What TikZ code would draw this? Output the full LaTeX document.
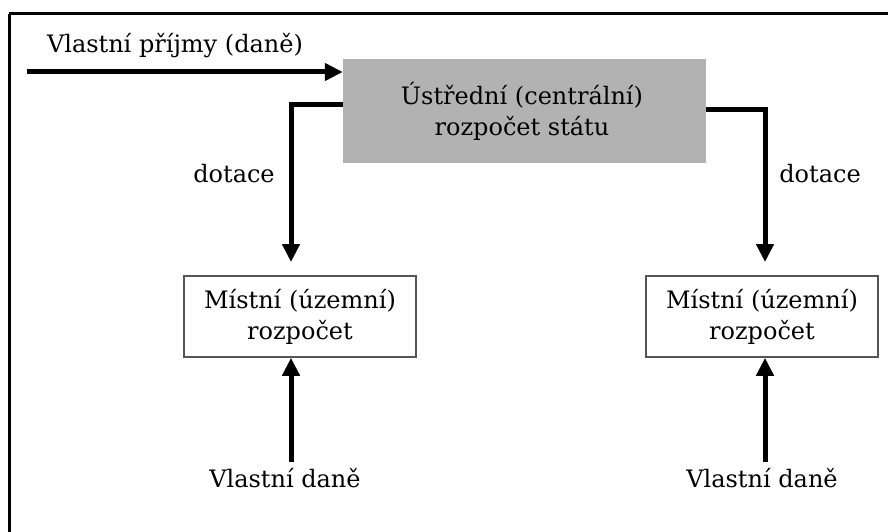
\documentclass[tikz,border=0pt]{standalone}
\usepackage{fontspec}
\setmainfont{DejaVu Serif}
\usetikzlibrary{arrows.meta}
\definecolor{boxgray}{HTML}{B2B2B2}
\definecolor{edgegray}{HTML}{555555}
\tikzset{
  txt/.style={font=\fontsize{24}{31}\selectfont, inner sep=0pt, align=center},
  flow/.style={line width=5pt, -{Triangle[length=18pt,width=17pt]}},
  localbox/.style={draw=edgegray, line width=1.6pt, minimum width=232pt, minimum height=81pt, inner sep=0pt},
}
\begin{document}
\begin{tikzpicture}[x=1pt,y=-1pt]
  \useasboundingbox (0,0) rectangle (888,532);
  % outer frame, only its top and left edges fall inside the page
  \begin{scope}
    \clip (0,0) rectangle (888,532);
    \draw[line width=3pt] (9,14) -- (900,14);
    \draw[line width=3pt] (9,14) -- (9,545);
  \end{scope}

  % central budget
  \node[fill=boxgray, minimum width=363pt, minimum height=104pt, inner sep=0pt] (central) at (524.5,111) {};
  \node[txt] (centraltext) at (522,111) {Ústřední (centrální)\\rozpočet státu};

  % local budgets
  \node[localbox] (local1) at (300,316.5) {};
  \node[txt] (local1text) at (300,316.5) {Místní (územní)\\rozpočet};
  \node[localbox] (local2) at (762,316.5) {};
  \node[txt] (local2text) at (762,316.5) {Místní (územní)\\rozpočet};

  % labels
  \node[txt] (income) at (175,46) {Vlastní příjmy (daně)};
  \node[txt] (dot1) at (234,174) {dotace};
  \node[txt] (dot2) at (820,174) {dotace};
  \node[txt] (tax1) at (285,478) {Vlastní daně};
  \node[txt] (tax2) at (762,478) {Vlastní daně};

  % connector end points
  \coordinate (instart) at (27,72);
  \coordinate (lout) at (343,105);
  \coordinate (lbend) at (291,105);
  \coordinate (lend) at (291,262);
  \coordinate (rout) at (706,110);
  \coordinate (rbend) at (765,110);
  \coordinate (rend) at (765,262);
  \coordinate (tsrc1) at (291,462);
  \coordinate (tsrc2) at (765,462);

  % flows
  \draw[flow] (instart) -- (instart -| central.west);
  \draw[flow] (lout) -- (lbend) -- (lend);
  \draw[flow] (rout) -- (rbend) -- (rend);
  \draw[flow] (tsrc1) -- (tsrc1 |- local1.south);
  \draw[flow] (tsrc2) -- (tsrc2 |- local2.south);
\end{tikzpicture}
\end{document}
